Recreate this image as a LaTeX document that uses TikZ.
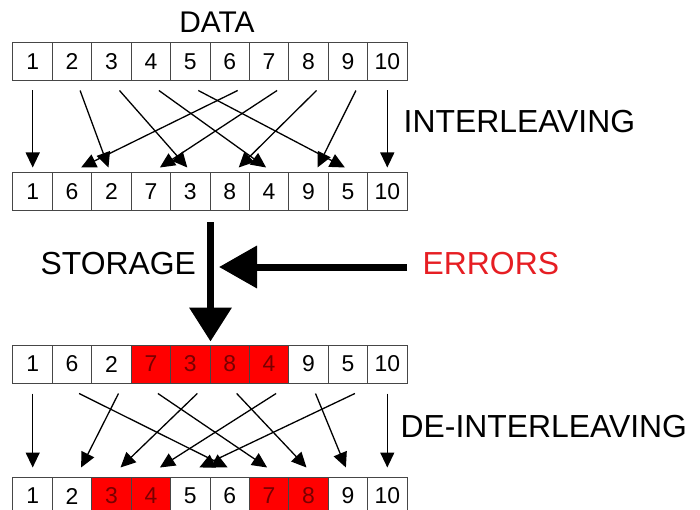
\documentclass[tikz,border=0pt]{standalone}
\usepackage{fontspec}
\setmainfont{Liberation Sans}
\usetikzlibrary{arrows.meta}
\usetikzlibrary{calc}

\definecolor{errred}{RGB}{230,30,35}
\definecolor{cellred}{RGB}{255,0,0}
\definecolor{digred}{RGB}{120,0,0}
\definecolor{cellline}{RGB}{70,70,70}

\begin{document}
\begin{tikzpicture}[x=1bp,y=-1bp,->,>={Triangle[length=15bp,width=14bp]},line width=1.3bp,
		cell/.style={draw=cellline,line width=1bp,minimum width=39.4bp,minimum height=38bp,
			inner sep=0pt,font=\fontsize{23}{27}\selectfont},
		bad/.style={cell,fill=cellred,text=digred},
		caption/.style={inner sep=0pt,font=\fontsize{32}{38}\selectfont},
		big/.style={line width=7bp,-{Triangle[length=#1,width=41bp]}}]
		
		\useasboundingbox (0,0) rectangle (700,510);
		
		% the four rows of cells
		\foreach \v [count=\i] in {1,...,10}
		\node[cell] (a\i) at ({13+39.4*(\i-0.5)},62) {\v};
		\foreach \v [count=\i] in {1,6,2,7,3,8,4,9,5,10}
		\node[cell] (b\i) at ({13+39.4*(\i-0.5)},192) {\v};
		\foreach \v/\s [count=\i] in {1/cell,6/cell,2/cell,7/bad,3/bad,8/bad,4/bad,9/cell,5/cell,10/cell}
		\node[\s] (c\i) at ({13+39.4*(\i-0.5)},364) {\v};
		\foreach \s [count=\i] in {cell,cell,bad,bad,cell,cell,bad,bad,cell,cell}
		\node[\s] (d\i) at ({13+39.4*(\i-0.5)},496) {\i};
		
		% labels
		\node[caption,font=\fontsize{30}{36}\selectfont,anchor=base] (data) at (217,33) {DATA};
		\node[caption,anchor=base west] (inter) at (403,133) {INTERLEAVING};
		\node[caption,anchor=base west] (storage) at (40,275) {STORAGE};
		\node[caption,anchor=base west,text=errred] (errors) at (422,275) {ERRORS};
		\node[caption,anchor=base west] (deinter) at (400,437) {DE-INTERLEAVING};
		
		% interleaving
		\draw ($(a1.south)+(0,9)$) -- ($(b1.north)+(0,-5)$);
		\draw ($(a10.south)+(0,9)$) -- ($(b10.north)+(0,-5)$);
		\foreach \s/\t/\o in {2/3/-3,3/5/-3,4/7/-3,5/9/-3,6/2/9,7/4/9,8/6/9,9/8/9}
		\draw ($(a\s.south)+(8,9)$) -- ($(b\t.north)+(\o,-5)$);
		
		% storage and the errors hitting it
		\coordinate (hit) at (219,267);
		\draw[big=34bp] ($(b5.south east)+(0,11)$) -- ($(c5.north east)+(0,-3)$);
		\draw[big=38bp] ($(errors.west|-hit)+(-15,0)$) -- (hit);
		
		% de-interleaving
		\draw ($(c1.south)+(0,10)$) -- ($(d1.north)+(0,-9)$);
		\draw ($(c10.south)+(0,10)$) -- ($(d10.north)+(0,-9)$);
		\foreach \s/\t/\o in {2/6/-2,4/7/-2,6/8/-2,8/9/-2,3/2/9,5/3/9,7/4/9,9/5/9}
		\draw ($(c\s.south)+(7,10)$) -- ($(d\t.north)+(\o,-9)$);
		
	\end{tikzpicture}
\end{document}
